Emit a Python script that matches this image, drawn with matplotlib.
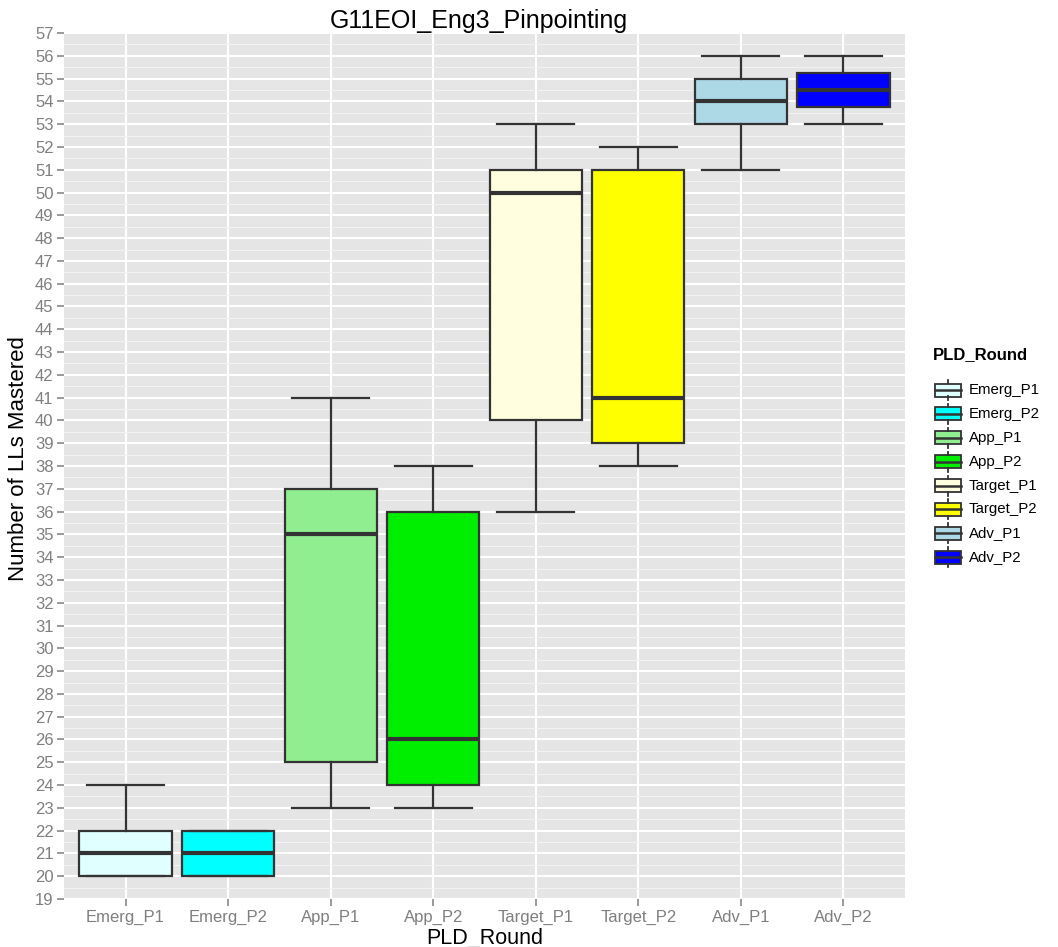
import matplotlib
matplotlib.use("Agg")
import matplotlib.pyplot as plt
from matplotlib.ticker import MultipleLocator
from matplotlib.patches import Rectangle

plt.rcParams['font.family'] = ['Liberation Sans', 'DejaVu Sans']

# ---- data ----
categories = ["Emerg_P1", "Emerg_P2", "App_P1", "App_P2",
              "Target_P1", "Target_P2", "Adv_P1", "Adv_P2"]
whisker_low = [20, 20, 23, 23, 36, 38, 51, 53]
q1          = [20, 20, 25, 24, 40, 39, 53, 53.75]
median      = [21, 21, 35, 26, 50, 41, 54, 54.5]
q3          = [22, 22, 37, 36, 51, 51, 55, 55.25]
whisker_high = [24, 22, 41, 38, 53, 52, 56, 56]
colors = ["#E0FFFF", "#00FFFF", "#90EE90", "#00EE00",
          "#FFFFE0", "#FFFF00", "#ADD8E6", "#0000FF"]
y_ticks = list(range(19, 58))

W, H = 1058, 947
fig = plt.figure(figsize=(W / 100, H / 100), dpi=100)

# panel in pixel coordinates
pl, pr, pt, pb = 64, 905, 33, 899
ax = fig.add_axes([pl / W, 1 - pb / H, (pr - pl) / W, (pb - pt) / H])
ax.set_facecolor("#E5E5E5")

stats = []
for i, c in enumerate(categories):
    stats.append(dict(label=c, whislo=whisker_low[i], q1=q1[i], med=median[i],
                      q3=q3[i], whishi=whisker_high[i], fliers=[]))

positions = list(range(1, len(categories) + 1))
edge = "#333333"
bp = ax.bxp(stats, positions=positions, widths=0.9, capwidths=0.75,
            patch_artist=True, showfliers=False,
            boxprops=dict(edgecolor=edge, linewidth=1.6),
            whiskerprops=dict(color=edge, linewidth=1.6),
            capprops=dict(color=edge, linewidth=1.6),
            medianprops=dict(color=edge, linewidth=3.0))
for patch, col in zip(bp['boxes'], colors):
    patch.set_facecolor(col)
for artist in bp['boxes'] + bp['whiskers'] + bp['caps'] + bp['medians']:
    artist.set_zorder(3)

ax.set_xlim(0.4, len(categories) + 0.6)
ax.set_ylim(19, 57)
ax.set_yticks(y_ticks)
ax.set_yticklabels([str(v) for v in y_ticks])
ax.yaxis.set_minor_locator(MultipleLocator(0.5))
ax.set_xticks(positions)
ax.set_xticklabels(categories)

ax.set_axisbelow(True)
ax.grid(True, which='major', color='white', linewidth=1.5)
ax.grid(True, which='minor', axis='y', color='#F2F2F2', linewidth=0.8)
for s in ax.spines.values():
    s.set_visible(False)
ax.tick_params(axis='both', which='major', length=5, width=1.1, color='#7F7F7F',
               labelcolor='#7F7F7F', labelsize=12, pad=2.5)
ax.tick_params(axis='both', which='minor', length=0)

# titles
fig.text(479 / W, 1 - 28 / H, "G11EOI_Eng3_Pinpointing", ha='center',
         va='baseline', fontsize=18, color='black')
fig.text(484.5 / W, 1 - 944 / H, "PLD_Round", ha='center', va='baseline',
         fontsize=15.5, color='black')
fig.text(19 / W, 1 - 459 / H, "Number of LLs Mastered", ha='center',
         va='center', rotation=90, fontsize=16, color='black')

# legend (drawn in its own pixel-mapped axes)
lx0, lx1, ly0, ly1 = 915, 1058, 335, 575
lax = fig.add_axes([lx0 / W, 1 - ly1 / H, (lx1 - lx0) / W, (ly1 - ly0) / H])
lax.set_xlim(lx0, lx1)
lax.set_ylim(ly1, ly0)
lax.axis('off')
lax.text(933, 355, "PLD_Round", ha='left', va='center', fontsize=12,
         fontweight='bold', color='black')
key_y0, key_dy = 390, 23.9
kx0, kx1 = 935, 961
for i, (c, col) in enumerate(zip(categories, colors)):
    yc = key_y0 + i * key_dy
    kxm = (kx0 + kx1) / 2
    lax.plot([kxm, kxm], [yc - 10, yc - 6.5], color=edge, lw=1.3)
    lax.plot([kxm, kxm], [yc + 6.5, yc + 10], color=edge, lw=1.3)
    lax.add_patch(Rectangle((kx0, yc - 6.5), kx1 - kx0, 13, facecolor=col,
                            edgecolor=edge, linewidth=1.3))
    lax.plot([kx0, kx1], [yc, yc], color=edge, lw=1.8)
    lax.text(969, yc, c, ha='left', va='center', fontsize=10.8, color='black')

fig.savefig("out.png", dpi=100)
